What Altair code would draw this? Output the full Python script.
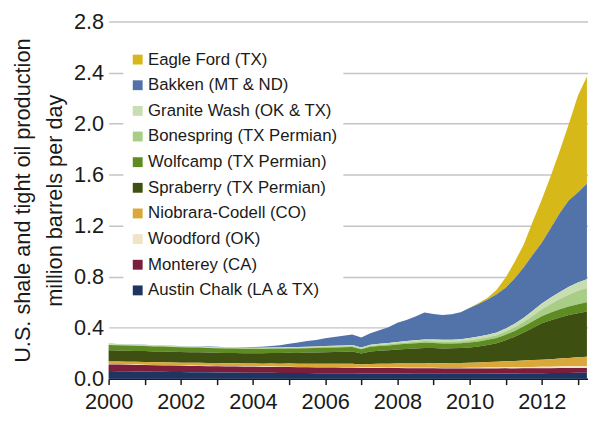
import altair as alt
import pandas as pd

# quarterly time grid, 2000 Q1 .. 2013 Q2
quarters = [y + q / 4 for y in range(2000, 2014) for q in range(4)][:54]

plays = [
    "Eagle Ford (TX)",
    "Bakken (MT & ND)",
    "Granite Wash (OK & TX)",
    "Bonespring (TX Permian)",
    "Wolfcamp (TX Permian)",
    "Spraberry (TX Permian)",
    "Niobrara-Codell (CO)",
    "Woodford (OK)",
    "Monterey (CA)",
    "Austin Chalk (LA & TX)",
]
colors = ["#D6B818", "#5272AA", "#C9DDB3", "#A8CD86", "#5E8C22",
          "#3D5012", "#D9A73A", "#EFE4C4", "#7A1E3C", "#1E3461"]

austin_chalk = [
    0.060, 0.059, 0.058, 0.057, 0.056, 0.055, 0.054, 0.053,
    0.052, 0.051, 0.050, 0.050, 0.049, 0.048, 0.048, 0.047,
    0.047, 0.046, 0.046, 0.045, 0.045, 0.044, 0.044, 0.043,
    0.043, 0.043, 0.042, 0.042, 0.041, 0.041, 0.041, 0.040,
    0.040, 0.040, 0.039, 0.039, 0.039, 0.038, 0.038, 0.038,
    0.038, 0.039, 0.040, 0.040, 0.041, 0.041, 0.042, 0.043,
    0.043, 0.044, 0.045, 0.045, 0.046, 0.046]
monterey = [
    0.052, 0.052, 0.051, 0.051, 0.051, 0.050, 0.050, 0.050,
    0.049, 0.049, 0.049, 0.048, 0.048, 0.048, 0.047, 0.047,
    0.047, 0.046, 0.046, 0.046, 0.046, 0.045, 0.045, 0.045,
    0.045, 0.044, 0.044, 0.044, 0.043, 0.043, 0.043, 0.043,
    0.043, 0.042, 0.042, 0.042, 0.042, 0.041, 0.041, 0.041,
    0.041, 0.040, 0.040, 0.040, 0.040, 0.039, 0.039, 0.039,
    0.039, 0.038, 0.038, 0.038, 0.038, 0.038]
woodford = [
    0.003, 0.003, 0.003, 0.003, 0.003, 0.003, 0.003, 0.003,
    0.003, 0.003, 0.003, 0.003, 0.003, 0.003, 0.003, 0.003,
    0.003, 0.003, 0.003, 0.003, 0.003, 0.003, 0.003, 0.003,
    0.003, 0.003, 0.003, 0.003, 0.003, 0.003, 0.003, 0.003,
    0.004, 0.004, 0.004, 0.004, 0.005, 0.005, 0.005, 0.005,
    0.006, 0.006, 0.007, 0.007, 0.008, 0.009, 0.010, 0.010,
    0.011, 0.012, 0.013, 0.014, 0.015, 0.015]
niobrara = [
    0.020, 0.020, 0.020, 0.021, 0.021, 0.021, 0.021, 0.021,
    0.021, 0.022, 0.022, 0.022, 0.022, 0.022, 0.023, 0.023,
    0.023, 0.023, 0.024, 0.024, 0.025, 0.025, 0.026, 0.026,
    0.027, 0.027, 0.028, 0.028, 0.025, 0.029, 0.030, 0.031,
    0.032, 0.033, 0.034, 0.035, 0.036, 0.037, 0.038, 0.039,
    0.040, 0.042, 0.044, 0.046, 0.048, 0.050, 0.052, 0.054,
    0.056, 0.059, 0.062, 0.066, 0.070, 0.073]
spraberry = [
    0.088, 0.087, 0.087, 0.086, 0.086, 0.085, 0.085, 0.084,
    0.084, 0.083, 0.083, 0.082, 0.081, 0.080, 0.080, 0.080,
    0.080, 0.081, 0.082, 0.083, 0.084, 0.085, 0.087, 0.088,
    0.090, 0.092, 0.094, 0.096, 0.086, 0.098, 0.102, 0.106,
    0.110, 0.114, 0.118, 0.121, 0.118, 0.116, 0.116, 0.117,
    0.120, 0.126, 0.134, 0.145, 0.165, 0.190, 0.220, 0.252,
    0.285, 0.305, 0.322, 0.336, 0.345, 0.355]
wolfcamp = [
    0.042, 0.041, 0.041, 0.040, 0.040, 0.039, 0.039, 0.038,
    0.038, 0.037, 0.037, 0.036, 0.036, 0.035, 0.035, 0.035,
    0.034, 0.034, 0.034, 0.034, 0.034, 0.034, 0.034, 0.035,
    0.035, 0.035, 0.036, 0.036, 0.032, 0.036, 0.037, 0.038,
    0.039, 0.040, 0.041, 0.041, 0.040, 0.039, 0.038, 0.038,
    0.038, 0.039, 0.040, 0.041, 0.042, 0.045, 0.048, 0.052,
    0.056, 0.060, 0.064, 0.067, 0.070, 0.072]
bonespring = [
    0.004, 0.004, 0.004, 0.004, 0.004, 0.004, 0.004, 0.004,
    0.004, 0.004, 0.004, 0.004, 0.004, 0.004, 0.004, 0.004,
    0.004, 0.005, 0.005, 0.005, 0.005, 0.006, 0.006, 0.006,
    0.007, 0.007, 0.007, 0.008, 0.007, 0.008, 0.009, 0.009,
    0.010, 0.011, 0.012, 0.013, 0.014, 0.014, 0.015, 0.016,
    0.018, 0.019, 0.020, 0.022, 0.025, 0.029, 0.035, 0.044,
    0.055, 0.068, 0.080, 0.093, 0.105, 0.112]
granite_wash = [
    0.004, 0.004, 0.004, 0.004, 0.004, 0.004, 0.004, 0.004,
    0.004, 0.004, 0.004, 0.004, 0.004, 0.004, 0.004, 0.004,
    0.005, 0.005, 0.005, 0.005, 0.006, 0.006, 0.006, 0.006,
    0.007, 0.007, 0.007, 0.008, 0.007, 0.008, 0.009, 0.009,
    0.010, 0.011, 0.012, 0.013, 0.014, 0.015, 0.015, 0.016,
    0.018, 0.019, 0.020, 0.022, 0.025, 0.028, 0.032, 0.038,
    0.045, 0.050, 0.056, 0.061, 0.065, 0.068]
bakken = [
    0.002, 0.002, 0.002, 0.002, 0.002, 0.002, 0.002, 0.002,
    0.002, 0.002, 0.003, 0.003, 0.003, 0.003, 0.003, 0.004,
    0.005, 0.008, 0.012, 0.018, 0.025, 0.035, 0.045, 0.052,
    0.060, 0.068, 0.075, 0.082, 0.078, 0.090, 0.105, 0.125,
    0.150, 0.165, 0.185, 0.210, 0.200, 0.195, 0.200, 0.210,
    0.235, 0.255, 0.275, 0.300, 0.320, 0.355, 0.395, 0.440,
    0.475, 0.545, 0.620, 0.680, 0.705, 0.750]
eagle_ford = [
    0.0, 0.0, 0.0, 0.0, 0.0, 0.0, 0.0, 0.0,
    0.0, 0.0, 0.0, 0.0, 0.0, 0.0, 0.0, 0.0,
    0.0, 0.0, 0.0, 0.0, 0.0, 0.0, 0.0, 0.0,
    0.0, 0.0, 0.0, 0.0, 0.0, 0.0, 0.0, 0.0,
    0.0, 0.0, 0.0, 0.0, 0.0, 0.0, 0.0, 0.001,
    0.003, 0.008, 0.015, 0.035, 0.080, 0.130, 0.180, 0.260,
    0.340, 0.410, 0.490, 0.600, 0.760, 0.840]

series = [eagle_ford, bakken, granite_wash, bonespring, wolfcamp,
          spraberry, niobrara, woodford, monterey, austin_chalk]

y_ticks = [0.0, 0.4, 0.8, 1.2, 1.6, 2.0, 2.4, 2.8]
x_ticks = list(range(2000, 2014))

rows = []
n = len(plays)
for i, (name, vals) in enumerate(zip(plays, series)):
    for t, v in zip(quarters, vals):
        rows.append({"year": t, "play": name, "value": v, "ord": n - i})
df = pd.DataFrame(rows)

FONT = "Liberation Sans"
TXT = "#1a1a1a"

chart = alt.Chart(df).mark_area(interpolate="linear").encode(
    x=alt.X("year:Q",
            scale=alt.Scale(domain=[2000, 2013.28], nice=False, zero=False),
            axis=alt.Axis(values=x_ticks, format="d",
                          labelExpr="datum.value % 2 == 0 ? datum.label : ''",
                          grid=False, ticks=True, tickSize=6, tickWidth=1.5,
                          tickColor=TXT, domainColor=TXT, domainWidth=1.5,
                          labelFontSize=22, labelPadding=7, labelColor=TXT,
                          labelFont=FONT, labelFlush=False, labelOverlap=False,
                          title=None)),
    y=alt.Y("value:Q", stack="zero",
            scale=alt.Scale(domain=[0, 2.8], nice=False),
            axis=alt.Axis(values=y_ticks, format=".1f", grid=True,
                          gridColor="#c4c4c4", gridWidth=1.5,
                          ticks=False, domain=False,
                          labelFontSize=22, labelPadding=5, labelColor=TXT,
                          labelFont=FONT,
                          title=["U.S. shale and tight oil production",
                                 "million barrels per day"],
                          titleFont=FONT, titleFontSize=22,
                          titleFontWeight="normal", titleColor=TXT,
                          titlePadding=7, titleLineHeight=33)),
    color=alt.Color("play:N",
                    scale=alt.Scale(domain=plays, range=colors),
                    sort=plays,
                    legend=alt.Legend(orient="none", legendX=15, legendY=24,
                                      title=None, fillColor="white",
                                      padding=6, symbolType="square",
                                      symbolSize=100, symbolStrokeWidth=0,
                                      symbolOpacity=1,
                                      labelFont=FONT, labelFontSize=17,
                                      labelColor=TXT, labelOffset=2,
                                      rowPadding=8, labelLimit=300)),
    order=alt.Order("ord:Q", sort="ascending"),
).properties(
    width=486, height=362,
    autosize=alt.AutoSizeParams(type="none"),
    padding={"left": 102, "top": 11, "right": 0, "bottom": 32},
    background="white",
).configure_view(stroke=None)

chart.save("out.html", embed_options={"renderer": "svg", "actions": False})
